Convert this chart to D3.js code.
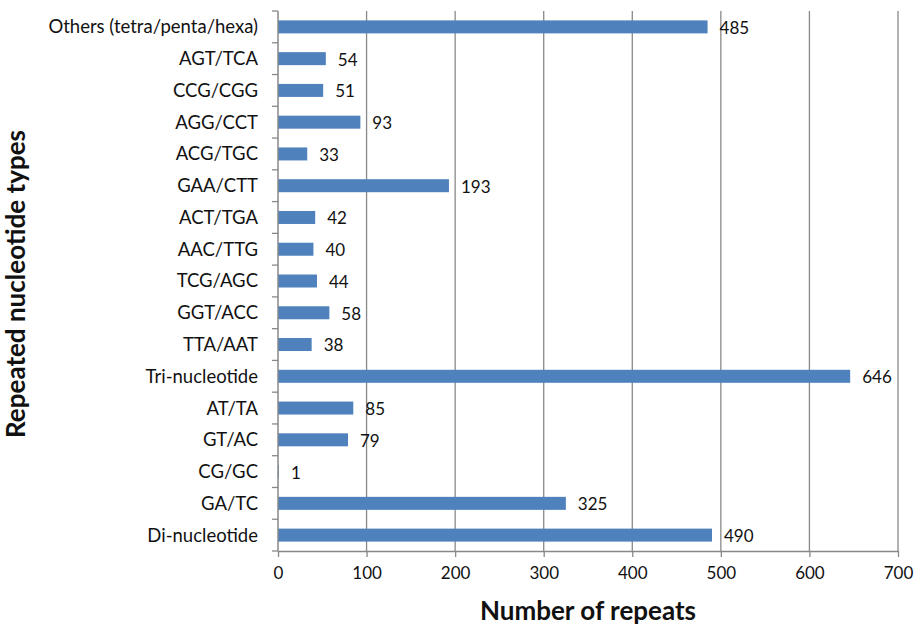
<!DOCTYPE html>
<html><head><meta charset="utf-8">
<script src="https://cdn.jsdelivr.net/npm/d3@7"></script>
<style>body{margin:0;background:#fff;} svg{display:block;} text{font-family:Lato, "Open Sans", sans-serif;fill:#111;}</style>
</head><body><svg id="c" width="916" height="628"></svg>
<script>
const categories = ["Others (tetra/penta/hexa)","AGT/TCA","CCG/CGG","AGG/CCT","ACG/TGC","GAA/CTT","ACT/TGA","AAC/TTG","TCG/AGC","GGT/ACC","TTA/AAT","Tri-nucleotide","AT/TA","GT/AC","CG/GC","GA/TC","Di-nucleotide"];
const values = [485,54,51,93,33,193,42,40,44,58,38,646,85,79,1,325,490];
const xTicks = [0,100,200,300,400,500,600,700];
const xTitle = "Number of repeats";
const yTitle = "Repeated nucleotide types";

const svg = d3.select("#c");
const m = {left:278, right:898, top:11, bottom:551};
const x = d3.scaleLinear().domain([0,700]).range([m.left,m.right]);
const yb = d3.scaleBand().domain(categories).range([m.top,m.bottom]);

// gridlines
svg.append("g").selectAll("line").data(xTicks.slice(1)).join("line")
  .attr("x1",d=>x(d)).attr("x2",d=>x(d)).attr("y1",m.top).attr("y2",m.bottom)
  .attr("stroke","#888").attr("stroke-width",1.3);

// bars
svg.append("g").selectAll("rect").data(values).join("rect")
  .attr("x",x(0)).attr("y",(d,i)=>yb(categories[i])+yb.bandwidth()/2-6.5)
  .attr("width",d=>x(d)-x(0)).attr("height",13).attr("fill","#4F81BD");

// value labels
svg.append("g").selectAll("text").data(values).join("text")
  .attr("x",d=>x(d)+12).attr("y",(d,i)=>yb(categories[i])+yb.bandwidth()/2+1)
  .attr("dy","0.35em").attr("font-size",17).text(d=>d);

// x axis
const xa = svg.append("g").attr("transform",`translate(0,${m.bottom})`)
  .call(d3.axisBottom(x).tickValues(xTicks).tickSize(6).tickPadding(10).tickSizeOuter(0));
xa.select(".domain").attr("stroke","#888").attr("stroke-width",1.5);
xa.selectAll(".tick line").attr("stroke","#888").attr("stroke-width",1.3);
xa.selectAll("text").attr("font-size",17).attr("fill","#111").style("font-family","Lato");

// y axis
const yTickPos = categories.map(c=>yb(c)).concat([m.bottom]);
svg.append("line").attr("x1",m.left).attr("x2",m.left).attr("y1",m.top).attr("y2",m.bottom).attr("stroke","#888").attr("stroke-width",1.5);
svg.append("g").selectAll("line").data(yTickPos).join("line")
  .attr("x1",m.left-6).attr("x2",m.left).attr("y1",d=>d).attr("y2",d=>d).attr("stroke","#888").attr("stroke-width",1.3);
svg.append("g").selectAll("text").data(categories).join("text")
  .attr("x",m.left-20).attr("y",d=>yb(d)+yb.bandwidth()/2).attr("dy","0.35em")
  .attr("text-anchor","end").attr("font-size",18.5).text(d=>d);

// titles
svg.append("text").attr("x",588).attr("y",620).attr("text-anchor","middle")
  .attr("font-size",26).attr("font-weight","bold").text(xTitle);
svg.append("text").attr("transform","translate(25,284) rotate(-90)").attr("text-anchor","middle")
  .attr("font-size",26).attr("font-weight","bold").text(yTitle);
</script></body></html>
